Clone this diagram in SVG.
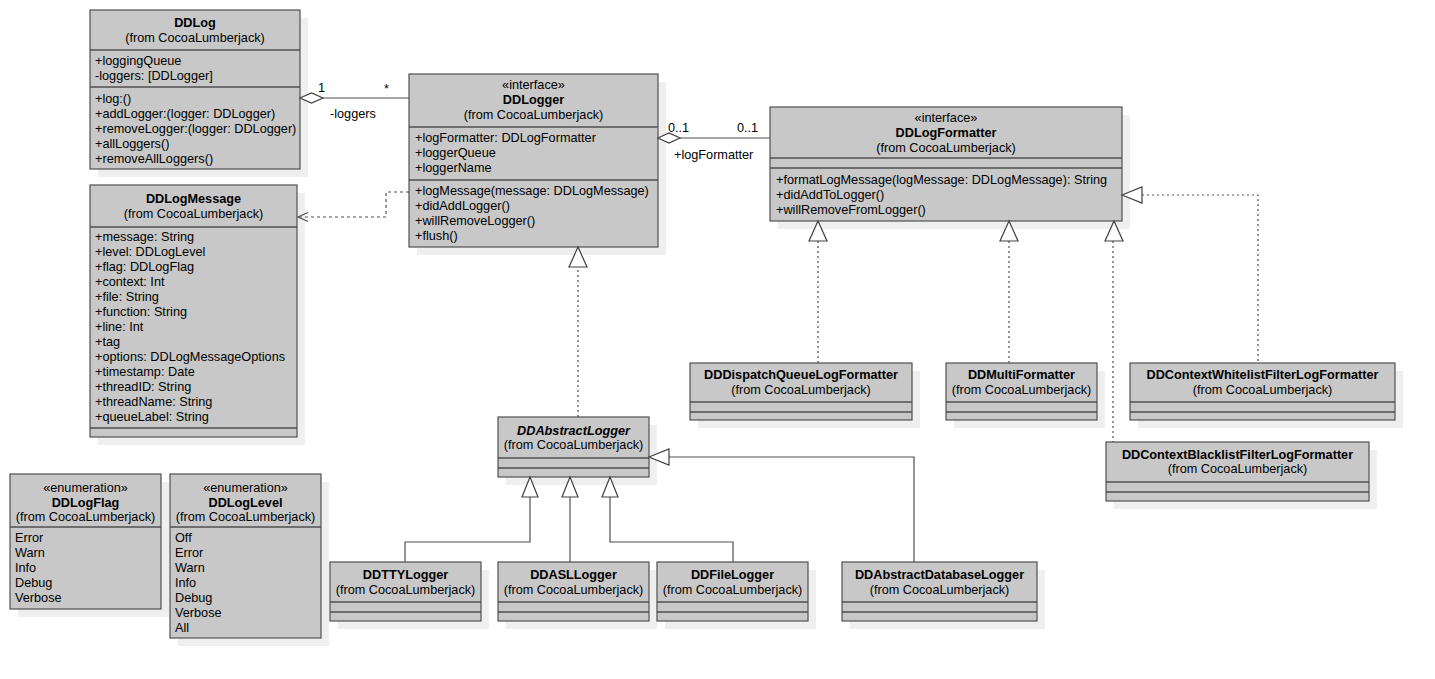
<svg xmlns="http://www.w3.org/2000/svg" width="1435" height="679" viewBox="0 0 1435 679">
<defs>
<style>
text{font-family:"Liberation Sans",Arial,sans-serif;font-size:12.7px;fill:#000}
.b{font-weight:bold}
.bi{font-weight:bold;font-style:italic}
.c{text-anchor:middle}
.sh{fill:#efefef;stroke:none}
.box{fill:#c8c8c8;stroke:#505050;stroke-width:1.2}
.dv{stroke:#505050;stroke-width:1.4}
.ln{fill:none;stroke:#505050;stroke-width:1.2}
.dash{fill:none;stroke:#505050;stroke-width:1.2;stroke-dasharray:3,3}
.dot{fill:none;stroke:#505050;stroke-width:1.2;stroke-dasharray:2,3}
.tri{fill:#fff;stroke:#404040;stroke-width:1.2}
</style>
</defs>
<rect width="1435" height="679" fill="#fff"/>

<g id="DDLog">
<rect class="sh" x="98" y="18" width="210" height="159"/>
<rect class="box" x="90" y="10" width="210" height="159"/>
<line class="dv" x1="90" y1="50" x2="300" y2="50"/>
<line class="dv" x1="90" y1="87" x2="300" y2="87"/>
<text class="b c" x="195" y="27">DDLog</text>
<text class="c" x="195" y="42">(from CocoaLumberjack)</text>
<text x="95" y="65">+loggingQueue</text>
<text x="95" y="80">-loggers: [DDLogger]</text>
<text x="95" y="103">+log:()</text>
<text x="95" y="118">+addLogger:(logger: DDLogger)</text>
<text x="95" y="133">+removeLogger:(logger: DDLogger)</text>
<text x="95" y="148">+allLoggers()</text>
<text x="95" y="163">+removeAllLoggers()</text>
</g>

<g id="DDLogger">
<rect class="sh" x="417" y="82" width="249" height="173"/>
<rect class="box" x="409" y="74" width="249" height="173"/>
<line class="dv" x1="409" y1="127" x2="658" y2="127"/>
<line class="dv" x1="409" y1="180" x2="658" y2="180"/>
<text class="c" x="533.5" y="89">«interface»</text>
<text class="b c" x="533.5" y="104">DDLogger</text>
<text class="c" x="533.5" y="119">(from CocoaLumberjack)</text>
<text x="415" y="142">+logFormatter: DDLogFormatter</text>
<text x="415" y="157">+loggerQueue</text>
<text x="415" y="172">+loggerName</text>
<text x="415" y="195">+logMessage(message: DDLogMessage)</text>
<text x="415" y="210">+didAddLogger()</text>
<text x="415" y="225">+willRemoveLogger()</text>
<text x="415" y="240">+flush()</text>
</g>

<g id="DDLogFormatter">
<rect class="sh" x="778" y="115" width="352" height="114"/>
<rect class="box" x="770" y="107" width="352" height="114"/>
<line class="dv" x1="770" y1="158" x2="1122" y2="158"/>
<line class="dv" x1="770" y1="168" x2="1122" y2="168"/>
<text class="c" x="946" y="122">«interface»</text>
<text class="b c" x="946" y="137">DDLogFormatter</text>
<text class="c" x="946" y="152">(from CocoaLumberjack)</text>
<text x="776" y="184">+formatLogMessage(logMessage: DDLogMessage): String</text>
<text x="776" y="199">+didAddToLogger()</text>
<text x="776" y="214">+willRemoveFromLogger()</text>
</g>

<g id="DDLogMessage">
<rect class="sh" x="98" y="193" width="207" height="252"/>
<rect class="box" x="90" y="185" width="207" height="252"/>
<line class="dv" x1="90" y1="227" x2="297" y2="227"/>
<line class="dv" x1="90" y1="428" x2="297" y2="428"/>
<text class="b c" x="193.5" y="203">DDLogMessage</text>
<text class="c" x="193.5" y="218">(from CocoaLumberjack)</text>
<text x="95" y="241">+message: String</text>
<text x="95" y="256">+level: DDLogLevel</text>
<text x="95" y="271">+flag: DDLogFlag</text>
<text x="95" y="286">+context: Int</text>
<text x="95" y="301">+file: String</text>
<text x="95" y="316">+function: String</text>
<text x="95" y="331">+line: Int</text>
<text x="95" y="346">+tag</text>
<text x="95" y="361">+options: DDLogMessageOptions</text>
<text x="95" y="376">+timestamp: Date</text>
<text x="95" y="391">+threadID: String</text>
<text x="95" y="406">+threadName: String</text>
<text x="95" y="421">+queueLabel: String</text>
</g>

<g id="DDLogFlag">
<rect class="sh" x="18" y="482" width="151" height="135"/>
<rect class="box" x="10" y="474" width="151" height="135"/>
<line class="dv" x1="10" y1="527" x2="161" y2="527"/>
<text class="c" x="85.5" y="492">«enumeration»</text>
<text class="b c" x="85.5" y="507">DDLogFlag</text>
<text class="c" x="85.5" y="521">(from CocoaLumberjack)</text>
<text x="15" y="542">Error</text>
<text x="15" y="557">Warn</text>
<text x="15" y="572">Info</text>
<text x="15" y="587">Debug</text>
<text x="15" y="602">Verbose</text>
</g>

<g id="DDLogLevel">
<rect class="sh" x="178" y="482" width="151" height="164"/>
<rect class="box" x="170" y="474" width="151" height="164"/>
<line class="dv" x1="170" y1="527" x2="321" y2="527"/>
<text class="c" x="245.5" y="492">«enumeration»</text>
<text class="b c" x="245.5" y="507">DDLogLevel</text>
<text class="c" x="245.5" y="521">(from CocoaLumberjack)</text>
<text x="175" y="542">Off</text>
<text x="175" y="557">Error</text>
<text x="175" y="572">Warn</text>
<text x="175" y="587">Info</text>
<text x="175" y="602">Debug</text>
<text x="175" y="617">Verbose</text>
<text x="175" y="632">All</text>
</g>

<g id="DDAbstractLogger">
<rect class="sh" x="506" y="425" width="151" height="60"/>
<rect class="box" x="498" y="417" width="151" height="60"/>
<line class="dv" x1="498" y1="458" x2="649" y2="458"/>
<line class="dv" x1="498" y1="468" x2="649" y2="468"/>
<text class="bi c" x="573.5" y="435">DDAbstractLogger</text>
<text class="c" x="573.5" y="449">(from CocoaLumberjack)</text>
</g>

<g id="DDTTYLogger">
<rect class="sh" x="338" y="570" width="151" height="59"/>
<rect class="box" x="330" y="562" width="151" height="59"/>
<line class="dv" x1="330" y1="602" x2="481" y2="602"/>
<line class="dv" x1="330" y1="612" x2="481" y2="612"/>
<text class="b c" x="405.5" y="579">DDTTYLogger</text>
<text class="c" x="405.5" y="594">(from CocoaLumberjack)</text>
</g>

<g id="DDASLLogger">
<rect class="sh" x="506" y="570" width="151" height="59"/>
<rect class="box" x="498" y="562" width="151" height="59"/>
<line class="dv" x1="498" y1="602" x2="649" y2="602"/>
<line class="dv" x1="498" y1="612" x2="649" y2="612"/>
<text class="b c" x="573.5" y="579">DDASLLogger</text>
<text class="c" x="573.5" y="594">(from CocoaLumberjack)</text>
</g>

<g id="DDFileLogger">
<rect class="sh" x="665" y="570" width="151" height="59"/>
<rect class="box" x="657" y="562" width="151" height="59"/>
<line class="dv" x1="657" y1="602" x2="808" y2="602"/>
<line class="dv" x1="657" y1="612" x2="808" y2="612"/>
<text class="b c" x="732.5" y="579">DDFileLogger</text>
<text class="c" x="732.5" y="594">(from CocoaLumberjack)</text>
</g>

<g id="DDAbstractDatabaseLogger">
<rect class="sh" x="850" y="570" width="195" height="59"/>
<rect class="box" x="842" y="562" width="195" height="59"/>
<line class="dv" x1="842" y1="602" x2="1037" y2="602"/>
<line class="dv" x1="842" y1="612" x2="1037" y2="612"/>
<text class="b c" x="939.5" y="579">DDAbstractDatabaseLogger</text>
<text class="c" x="939.5" y="594">(from CocoaLumberjack)</text>
</g>

<g id="DDDispatchQueueLogFormatter">
<rect class="sh" x="698" y="371" width="222" height="57"/>
<rect class="box" x="690" y="363" width="222" height="57"/>
<line class="dv" x1="690" y1="402" x2="912" y2="402"/>
<line class="dv" x1="690" y1="412" x2="912" y2="412"/>
<text class="b c" x="801" y="379">DDDispatchQueueLogFormatter</text>
<text class="c" x="801" y="394">(from CocoaLumberjack)</text>
</g>

<g id="DDMultiFormatter">
<rect class="sh" x="954" y="371" width="151" height="57"/>
<rect class="box" x="946" y="363" width="151" height="57"/>
<line class="dv" x1="946" y1="402" x2="1097" y2="402"/>
<line class="dv" x1="946" y1="412" x2="1097" y2="412"/>
<text class="b c" x="1021.5" y="379">DDMultiFormatter</text>
<text class="c" x="1021.5" y="394">(from CocoaLumberjack)</text>
</g>

<g id="DDContextWhitelistFilterLogFormatter">
<rect class="sh" x="1138" y="371" width="265" height="57"/>
<rect class="box" x="1130" y="363" width="265" height="57"/>
<line class="dv" x1="1130" y1="402" x2="1395" y2="402"/>
<line class="dv" x1="1130" y1="412" x2="1395" y2="412"/>
<text class="b c" x="1262.5" y="379">DDContextWhitelistFilterLogFormatter</text>
<text class="c" x="1262.5" y="394">(from CocoaLumberjack)</text>
</g>

<g id="DDContextBlacklistFilterLogFormatter">
<rect class="sh" x="1114" y="450" width="263" height="59"/>
<rect class="box" x="1106" y="442" width="263" height="59"/>
<line class="dv" x1="1106" y1="482" x2="1369" y2="482"/>
<line class="dv" x1="1106" y1="492" x2="1369" y2="492"/>
<text class="b c" x="1237.5" y="459">DDContextBlacklistFilterLogFormatter</text>
<text class="c" x="1237.5" y="473">(from CocoaLumberjack)</text>
</g>

<g id="connectors">
<line class="ln" x1="323" y1="98" x2="409" y2="98"/>
<polygon class="tri" points="300,98 311.5,93 323,98 311.5,103"/>
<text x="318" y="92">1</text>
<text x="384" y="93">*</text>
<text x="330" y="118">-loggers</text>

<line class="ln" x1="680" y1="138" x2="770" y2="138"/>
<polygon class="tri" points="658,138 669,133 680,138 669,143"/>
<text x="668" y="132">0..1</text>
<text x="737" y="132">0..1</text>
<text x="674" y="159">+logFormatter</text>

<path class="dash" d="M409,192 H386 V217 H298"/>
<polyline class="ln" points="308,212.5 298,217 308,221.5"/>

<line class="dot" x1="578" y1="417" x2="578" y2="267"/>
<polygon class="tri" points="578,247 569,267 587,267"/>

<path class="ln" d="M405,562 V542 H530 V497"/>
<polygon class="tri" points="530,477 522,497 538,497"/>
<line class="ln" x1="570" y1="562" x2="570" y2="497"/>
<polygon class="tri" points="570,477 562,497 578,497"/>
<path class="ln" d="M733,562 V542 H610 V497"/>
<polygon class="tri" points="610,477 602,497 618,497"/>
<path class="ln" d="M914,562 V457 H669"/>
<polygon class="tri" points="649,457 669,449 669,465"/>

<line class="dot" x1="818" y1="241" x2="818" y2="363"/>
<polygon class="tri" points="818,221 809,241 827,241"/>
<line class="dot" x1="1009" y1="241" x2="1009" y2="363"/>
<polygon class="tri" points="1009,221 1000,241 1018,241"/>
<line class="dot" x1="1113" y1="241" x2="1113" y2="442"/>
<polygon class="tri" points="1114,221 1105,241 1123,241"/>
<path class="dot" d="M1142,195 H1258 V363"/>
<polygon class="tri" points="1122,195 1142,187 1142,203"/>
</g>
</svg>
